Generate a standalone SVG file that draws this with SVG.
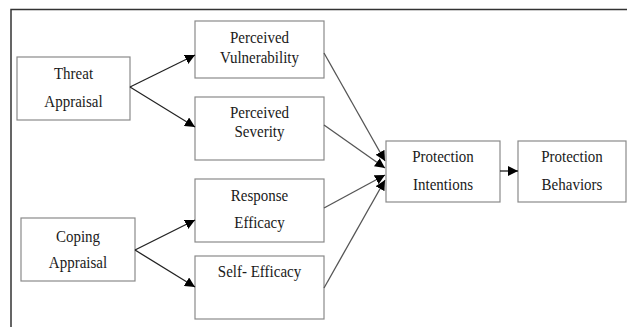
<svg xmlns="http://www.w3.org/2000/svg" width="627" height="327" viewBox="0 0 627 327">
  <defs>
    <marker id="arrow" viewBox="0 0 10 10" refX="10" refY="5" markerWidth="10" markerHeight="10" markerUnits="userSpaceOnUse" orient="auto">
      <path d="M0,0 L10,5 L0,10 z" fill="#000"/>
    </marker>
  </defs>
  <style>
    .box { fill: #fff; stroke: #8a8a8a; stroke-width: 1.2; }
    .label { font-family: "Liberation Serif", "Times New Roman", serif; font-size: 15px; fill: #1a1a1a; text-anchor: middle; }
    .edge { fill: none; stroke: #222; stroke-width: 1.3; marker-end: url(#arrow); }
    .edge-grey { fill: none; stroke: #555; stroke-width: 1.3; marker-end: url(#arrow); }
    .frame { fill: none; stroke: #333; stroke-width: 1.5; }
  </style>
  <rect x="0" y="0" width="627" height="327" fill="#fff"/>
  <!-- outer frame (top and left edges) -->
  <path class="frame" d="M11,327 L11,9.5 L627,9.5"/>

  <!-- labels use a slightly tall glyph shape: translate to baseline, then stretch vertically -->
  <g id="threat-appraisal">
    <rect class="box" x="17" y="57" width="113" height="63"/>
    <text class="label" transform="translate(73.5 79) scale(1 1.15)">Threat</text>
    <text class="label" transform="translate(73.5 107) scale(1 1.15)">Appraisal</text>
  </g>
  <g id="coping-appraisal">
    <rect class="box" x="21" y="218" width="114" height="63"/>
    <text class="label" transform="translate(78 242) scale(1 1.15)">Coping</text>
    <text class="label" transform="translate(78 268) scale(1 1.15)">Appraisal</text>
  </g>
  <g id="perceived-vulnerability">
    <rect class="box" x="195" y="21" width="129" height="57"/>
    <text class="label" transform="translate(259.5 43) scale(1 1.15)">Perceived</text>
    <text class="label" transform="translate(259.5 63) scale(1 1.15)">Vulnerability</text>
  </g>
  <g id="perceived-severity">
    <rect class="box" x="195" y="97" width="129" height="63"/>
    <text class="label" transform="translate(259.5 118) scale(1 1.15)">Perceived</text>
    <text class="label" transform="translate(259.5 137) scale(1 1.15)">Severity</text>
  </g>
  <g id="response-efficacy">
    <rect class="box" x="195" y="179" width="129" height="63"/>
    <text class="label" transform="translate(259.5 201) scale(1 1.15)">Response</text>
    <text class="label" transform="translate(259.5 228) scale(1 1.15)">Efficacy</text>
  </g>
  <g id="self-efficacy">
    <rect class="box" x="195" y="256" width="129" height="63"/>
    <text class="label" transform="translate(259.5 277) scale(1 1.15)">Self- Efficacy</text>
  </g>
  <g id="protection-intentions">
    <rect class="box" x="386" y="141" width="114" height="61"/>
    <text class="label" transform="translate(443 162) scale(1 1.15)">Protection</text>
    <text class="label" transform="translate(443 190) scale(1 1.15)">Intentions</text>
  </g>
  <g id="protection-behaviors">
    <rect class="box" x="518" y="141" width="108" height="61"/>
    <text class="label" transform="translate(572 162) scale(1 1.15)">Protection</text>
    <text class="label" transform="translate(572 190) scale(1 1.15)">Behaviors</text>
  </g>

  <g id="connectors">
    <line class="edge" x1="130" y1="87" x2="195" y2="55"/>
    <line class="edge" x1="130" y1="87" x2="195" y2="127"/>
    <line class="edge" x1="135" y1="250" x2="195" y2="220"/>
    <line class="edge" x1="135" y1="250" x2="195" y2="287"/>
    <line class="edge-grey" x1="324" y1="53" x2="385" y2="161"/>
    <line class="edge-grey" x1="324" y1="125" x2="385" y2="168"/>
    <line class="edge-grey" x1="324" y1="208" x2="385" y2="175"/>
    <line class="edge-grey" x1="324" y1="288" x2="385" y2="180"/>
    <line class="edge" x1="500" y1="171" x2="518" y2="171"/>
  </g>
</svg>
